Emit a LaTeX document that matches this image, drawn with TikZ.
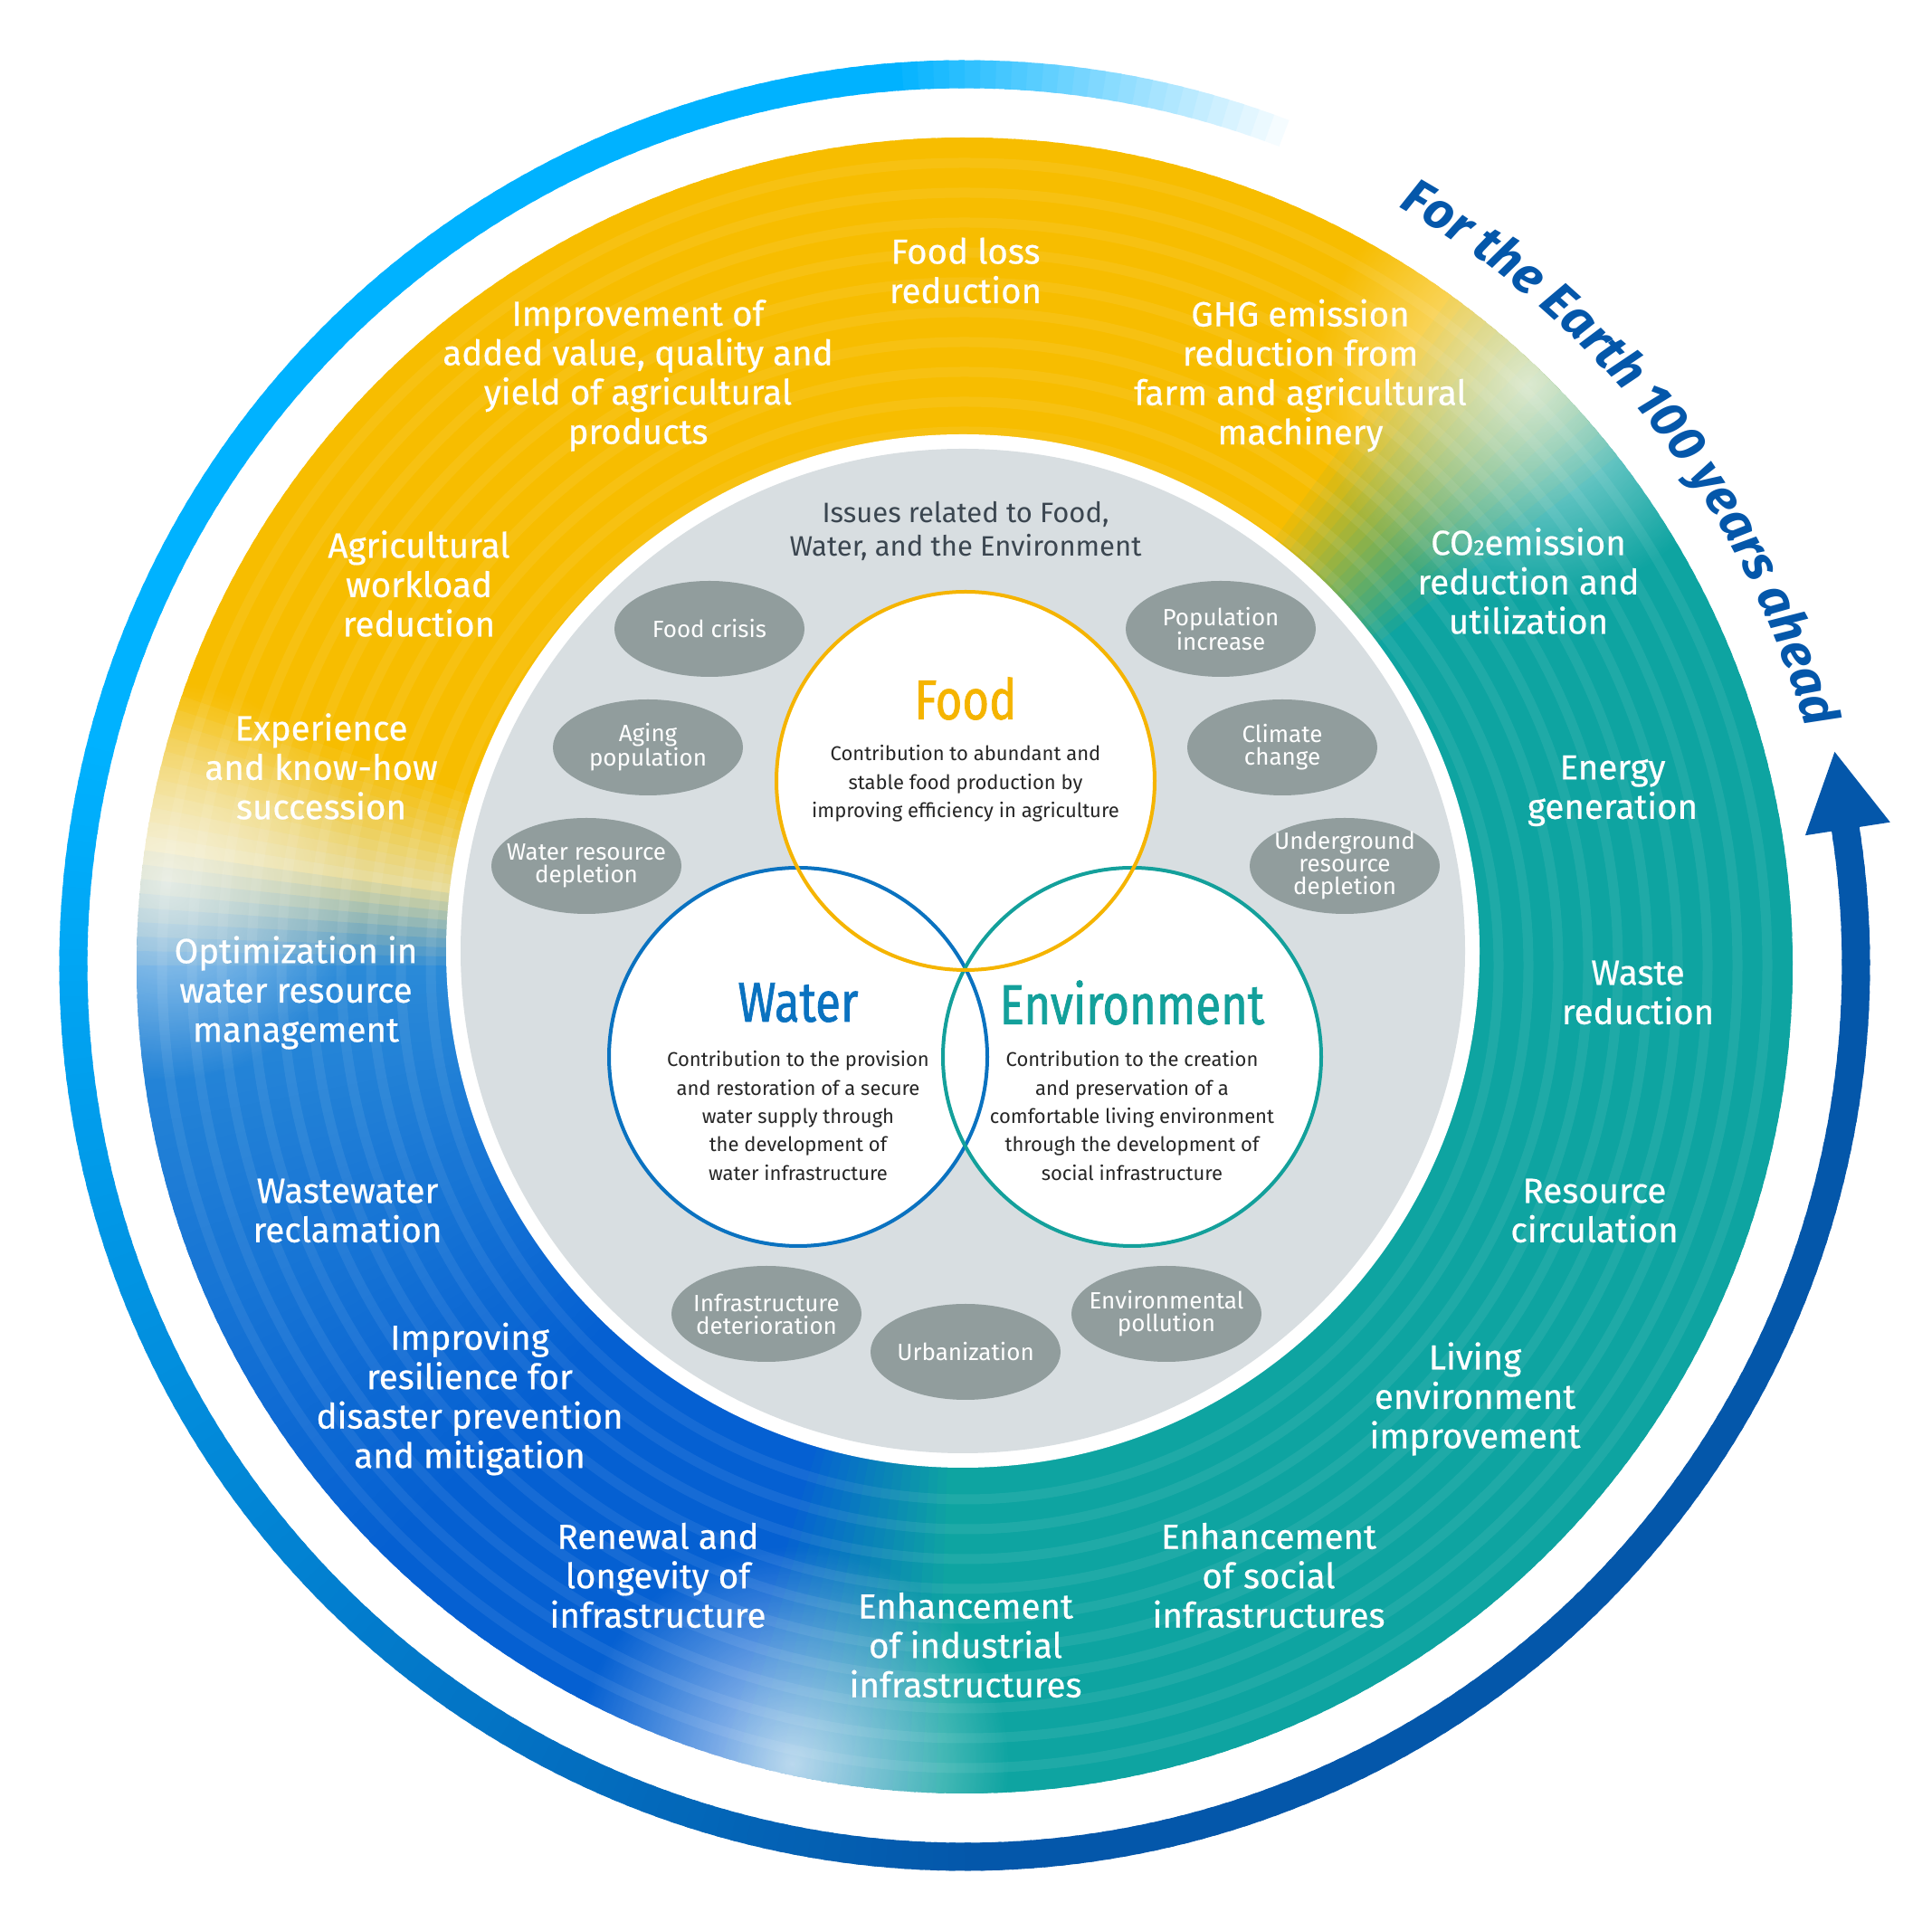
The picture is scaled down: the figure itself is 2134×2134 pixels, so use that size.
\documentclass[tikz,border=0pt]{standalone}
\usepackage{fontspec}
\setmainfont{Fira Sans}
\newfontfamily\condfont{Fira Sans}[FakeStretch=0.82,FakeBold=1.2]
\newfontfamily\ringfont{Fira Sans}[FakeBold=0.5]
\usetikzlibrary{shapes.geometric,decorations.text,fadings}
\definecolor{ctl}{HTML}{0EA4A1}
\definecolor{cyl}{HTML}{F7BD00}
\definecolor{cpy}{HTML}{E8DC9A}
\definecolor{cbla}{HTML}{2A8AD8}
\definecolor{cblb}{HTML}{0560D2}
\definecolor{acyan}{HTML}{00B2FF}
\definecolor{adark}{HTML}{0457AA}
\definecolor{greyd}{HTML}{D8DEE1}
\definecolor{egrey}{HTML}{919D9D}
\definecolor{foodc}{HTML}{F5B400}
\definecolor{waterc}{HTML}{0A72C0}
\definecolor{envc}{HTML}{13A09B}
\definecolor{issuec}{HTML}{3B4650}
\tikzfading[name=blobfade, inner color=transparent!15, outer color=transparent!100]
\tikzset{
  ringtxt/.style={text=white, align=center, font=\ringfont\fontsize{38.5}{43.5}\selectfont},
  issue/.style={ellipse, fill=egrey, minimum width=210, minimum height=106, inner sep=0pt},
  issuetxt/.style={text=white, align=center, font=\fontsize{26}{25}\selectfont},
  titletxt/.style={font=\condfont\fontsize{62}{62}\selectfont},
  desctxt/.style={text=black!85, align=center, font=\fontsize{22}{31.3}\selectfont},
  venn/.style={line width=4}
}
\begin{document}
\begin{tikzpicture}[x=1pt,y=1pt]
\useasboundingbox (0,0) rectangle (2134,2134);
\fill[white] (0,0) rectangle (2134,2134);
\coordinate (O) at (1066,1067);
\coordinate (I) at (1064,1083);
% colour wheel
\begin{scope}[shift={(O)}]
\foreach \sa/\sb/\ca/\cb in {0/37/ctl/ctl, 37/54/ctl/cyl, 54/160/cyl/cyl, 160/171/cyl/cpy, 171/180/cpy/cbla, 180/225/cbla/cblb, 225/252/cblb/cblb, 252/268/cblb/ctl, 268/360/ctl/ctl}{
  \pgfmathtruncatemacro\se{\sb-1}
  \foreach \a in {\sa,...,\se}{
    \pgfmathsetmacro\pp{(\a-\sa)/(\sb-\sa)*100}
    \colorlet{wc}{\cb!\pp!\ca}
    \fill[wc] (0,0) -- (\a:915) arc[start angle=\a, end angle=\a+1.6, radius=915] -- cycle;
  }
}
\foreach \r in {590,623,...,905}
  \draw[white, opacity=0.07, line width=11] (0,0) circle (\r);
\end{scope}
\begin{scope}
\clip (O) circle (915);
\fill[white, path fading=blobfade, opacity=0.85] (1690,1710) circle (240);
\fill[white, path fading=blobfade, opacity=0.8] (185,1160) circle (220);
\fill[white, path fading=blobfade, opacity=0.85] (875,185) circle (240);
\end{scope}
\fill[white] (I) circle (571);
\fill[greyd] (I) circle (555);
% outer arrow ring
\begin{scope}[shift={(O)}]
\foreach \a in {68,...,368}{
  \pgfmathsetmacro\pa{max(0,min(100,(\a-68)/26*100))}
  \pgfmathsetmacro\pb{max(0,min(100,(\a-165)/105*100))}
  \colorlet{aca}{adark!\pb!acyan}
  \colorlet{acb}{aca!\pa!white}
  \draw[acb, line width=31] (\a:985) arc[start angle=\a, end angle=\a+1.4, radius=985];
}
\fill[adark] (368.8:940) -- (373.8:990) -- (368.8:1035) -- cycle;
\path[decorate, decoration={text along path, text align=center, text color=adark,
  text={|\fontsize{56}{56}\selectfont\bfseries\itshape|For the Earth 100 years ahead}}]
  (66:966) arc[start angle=66, end angle=10, radius=966];
\end{scope}
% ring texts
\node[ringtxt] (t1) at (1067,1835) {Food loss\\reduction};
\node[ringtxt] (t2) at (705,1719) {Improvement of\\added value, quality and\\yield of agricultural\\products};
\node[ringtxt] (t3) at (1437,1719) {GHG emission\\reduction from\\farm and agricultural\\machinery};
\node[ringtxt] (t4) at (463,1489) {Agricultural\\workload\\reduction};
\node[ringtxt] (t5) at (355,1287) {Experience\\and know-how\\succession};
\node[ringtxt] (t6) at (1689,1492) {CO{\fontsize{24}{24}\selectfont 2}emission\\reduction and\\utilization};
\node[ringtxt] (t7) at (1782,1260) {Energy\\generation};
\node[ringtxt] (t8) at (327,1037) {Optimization in\\water resource\\management};
\node[ringtxt] (t9) at (1810,1037) {Waste\\reduction};
\node[ringtxt] (t10) at (384,796) {Wastewater\\reclamation};
\node[ringtxt] (t11) at (1762,796) {Resource\\circulation};
\node[ringtxt] (t12) at (519,588) {Improving\\resilience for\\disaster prevention\\and mitigation};
\node[ringtxt] (t13) at (1630,588) {Living\\environment\\improvement};
\node[ringtxt] (t14) at (727,393) {Renewal and\\longevity of\\infrastructure};
\node[ringtxt] (t15) at (1402,393) {Enhancement\\of social\\infrastructures};
\node[ringtxt] (t16) at (1067,316) {Enhancement\\of industrial\\infrastructures};
% inner disk
\node[text=issuec, align=center, font=\fontsize{31}{37}\selectfont] (iss) at (1067,1547) {Issues related to Food,\\Water, and the Environment};
\foreach \n/\x/\y/\t in {e1/784/1439/{Food crisis}, e2/716/1308/{Aging\\population}, e3/648/1177/{Water resource\\depletion}, e4/1349/1439/{Population\\increase}, e5/1417/1308/{Climate\\change}, e6/1486/1177/{Underground\\resource\\depletion}, e7/847/682/{Infrastructure\\deterioration}, e8/1067/640/{Urbanization}, e9/1289/682/{Environmental\\pollution}}{
  \node[issue] (\n) at (\x,\y) {};
  \node[issuetxt] (\n t) at (\n) {\t};
}
% venn
\coordinate (fc) at (1067,1271);
\coordinate (wc) at (882,966);
\coordinate (ec) at (1251,966);
\fill[white] (fc) circle (209);
\fill[white] (wc) circle (209);
\fill[white] (ec) circle (209);
\draw[venn, waterc] (wc) circle (209);
\draw[venn, envc] (ec) circle (209);
\draw[venn, foodc] (fc) circle (209);
\node[titletxt, text=foodc] (ft) at (1067,1362) {Food};
\node[desctxt] (fd) at (1067,1268) {Contribution to abundant and\\stable food production by\\improving efficiency in agriculture};
\node[titletxt, text=waterc] (wt) at (882,1026) {Water};
\node[desctxt] (wd) at (882,901) {Contribution to the provision\\and restoration of a secure\\water supply through\\the development of\\water infrastructure};
\node[titletxt, text=envc] (et) at (1251,1026) {Environment};
\node[desctxt] (ed) at (1251,901) {Contribution to the creation\\and preservation of a\\comfortable living environment\\through the development of\\social infrastructure};
\end{tikzpicture}
\end{document}
